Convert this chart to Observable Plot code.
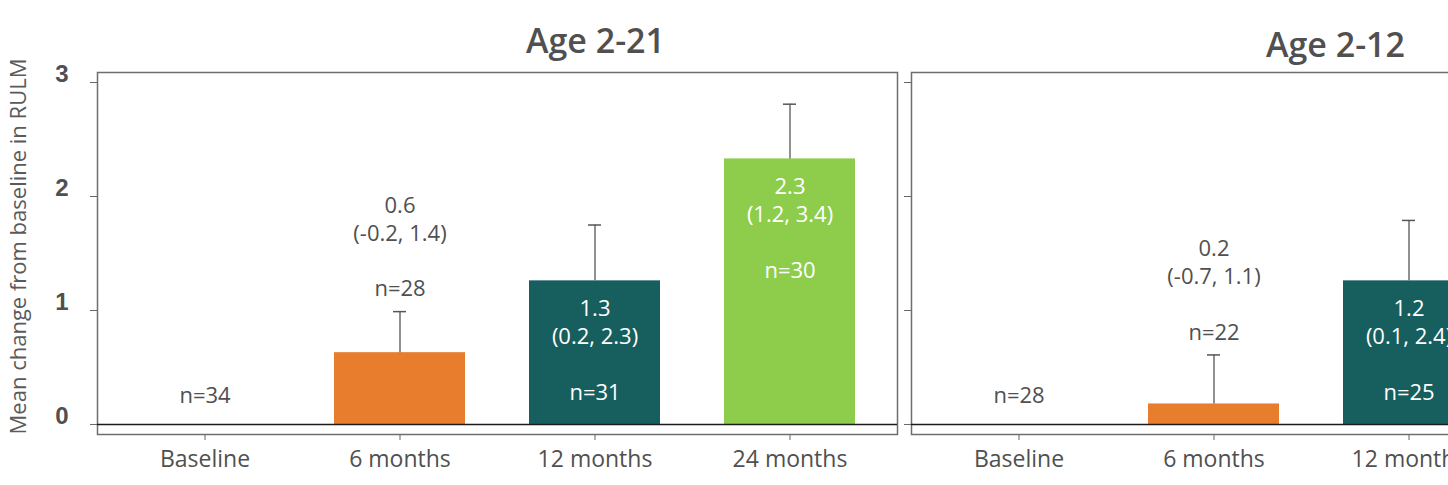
<!DOCTYPE html>
<html>
<head>
<meta charset="utf-8">
<script src="https://cdn.jsdelivr.net/npm/d3@7"></script>
<script src="https://cdn.jsdelivr.net/npm/@observablehq/plot@0.6"></script>
<style>
  html, body { margin: 0; padding: 0; background: #fff; overflow: hidden; width: 1448px; height: 485px; }
  #chart { width: 1721px; }
  #chart svg { max-width: none !important; display: block; }
</style>
</head>
<body>
<div id="chart"></div>
<script>
// ---- data ----
const panels = ["Age 2-21", "Age 2-12"];
const timepoints = ["Baseline", "6 months", "12 months", "24 months"];
const barColors = ["#ffffff", "#E97D2E", "#175E5E", "#8DCD4B"];
const yTicks = [0, 1, 2, 3];
const yTitle = "Mean change from baseline in RULM";

// Age 2-21
const a_values = [0, 0.63, 1.26, 2.33];
const a_upper  = [null, 0.99, 1.75, 2.81];
const a_means  = [null, "0.6", "1.3", "2.3"];
const a_ci     = [null, "(-0.2, 1.4)", "(0.2, 2.3)", "(1.2, 3.4)"];
const a_n      = [34, 28, 31, 30];

// Age 2-12 (only the visible part of the panel)
const b_values = [0, 0.18, 1.26];
const b_upper  = [null, 0.61, 1.79];
const b_means  = [null, "0.2", "1.2"];
const b_ci     = [null, "(-0.7, 1.1)", "(0.1, 2.4)"];
const b_n      = [28, 22, 25];

function buildRows(panel, values, upper, means, ci, ns) {
  return values.map((v, i) => ({
    panel, time: timepoints[i], value: v, upper: upper[i],
    mean: means[i], ci: ci[i], n: ns[i], color: barColors[i]
  }));
}
const rows = [
  ...buildRows(panels[0], a_values, a_upper, a_means, a_ci, a_n),
  ...buildRows(panels[1], b_values, b_upper, b_means, b_ci, b_n)
];
const barRows = rows.filter(d => d.mean != null);
const baseRows = rows.filter(d => d.mean == null);
const outsideRows = barRows.filter(d => d.value < 1);
const insideRows = barRows.filter(d => d.value >= 1);
const label = d => `${d.mean}\n${d.ci}\n\nn=${d.n}`;

const textGray = "#505050";
const font = "Open Sans, Noto Sans, sans-serif";

const chart = Plot.plot({
  width: 1721,
  height: 485,
  marginLeft: 97,
  marginRight: 10,
  marginTop: 72,
  marginBottom: 51,
  style: { fontFamily: font, color: textGray, background: "#fff", maxWidth: "none" },
  fx: { domain: panels, paddingInner: 14 / 814, paddingOuter: 0, axis: null },
  x: { domain: timepoints, paddingInner: 0.33, paddingOuter: 0.21 },
  y: { domain: [-0.088, 3.088] },
  marks: [
    Plot.frame({ stroke: "#6e6e6e", strokeWidth: 1.5 }),
    Plot.barY(barRows, { fx: "panel", x: "time", y: "value", fill: "color" }),
    Plot.ruleX(barRows, { fx: "panel", x: "time", y1: "value", y2: "upper", stroke: "#555", strokeWidth: 1.3 }),
    Plot.tickY(barRows, { fx: "panel", x: "time", y: "upper", stroke: "#555", strokeWidth: 1.5, insetLeft: 59, insetRight: 59 }),
    Plot.ruleY([0], { stroke: "#1a1a1a", strokeWidth: 1.4 }),
    Plot.axisY(yTicks, { anchor: "left", facetAnchor: null, tickSize: 7, tickFormat: () => "", stroke: "#666", label: null }),
    Plot.axisY(yTicks, { anchor: "left", tickSize: 0, tickPadding: 29, tickFormat: d => String(d), fontSize: 24, fontWeight: "bold",
      fontFamily: "Liberation Sans, Arial, sans-serif", fill: "#505050", label: null, dy: -8 }),
    Plot.axisX({ anchor: "bottom", tickSize: 6, tickPadding: 10, fontSize: 23, fill: textGray, stroke: "#666", label: null }),
    Plot.text(baseRows, { fx: "panel", x: "time", y: "value", text: d => `n=${d.n}`, dy: -29,
      fontSize: 22, fill: textGray }),
    Plot.text(outsideRows, { fx: "panel", x: "time", y: "upper", text: label, dy: -66,
      lineHeight: 1.27, fontSize: 22, fill: textGray }),
    Plot.text(insideRows, { fx: "panel", x: "time", y: "value", text: label, dy: 68,
      lineHeight: 1.27, fontSize: 22, fill: "#ffffff" }),
    Plot.text([panels[0]], { fx: d => d, text: d => d, frameAnchor: "top", dx: 98, dy: -44,
      fontSize: 34, fontWeight: 600, fill: textGray }),
    Plot.text([panels[1]], { fx: d => d, text: d => d, frameAnchor: "top", dx: 24, dy: -40,
      fontSize: 34, fontWeight: 600, fill: textGray }),
    Plot.text([panels[0]], { fx: d => d, text: () => yTitle, frameAnchor: "left", textAnchor: "middle",
      rotate: -90, dx: -79, dy: -7, fontSize: 22, fill: "#5a5a5a" })
  ]
});
document.getElementById("chart").appendChild(chart);
</script>
</body>
</html>
